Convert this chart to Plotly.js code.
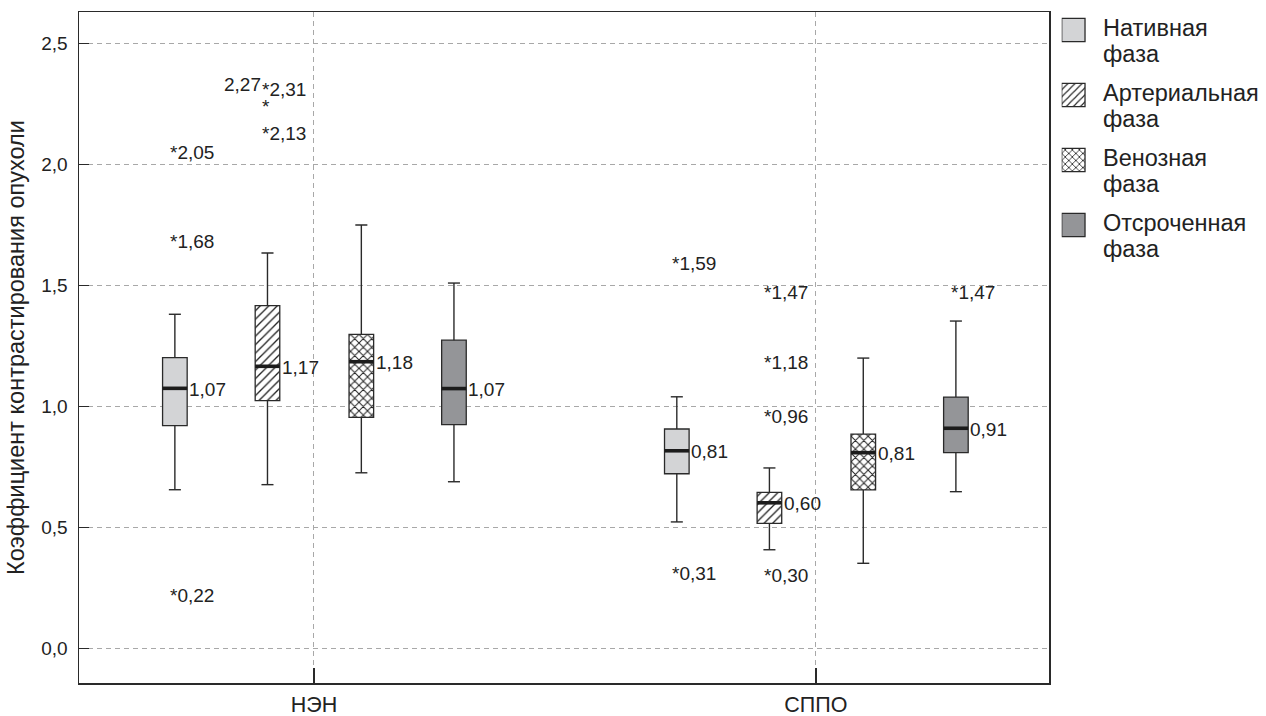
<!DOCTYPE html>
<html><head><meta charset="utf-8">
<script src="https://cdn.plot.ly/plotly-3.0.1.min.js"></script>
<style>html,body{margin:0;padding:0;background:#fff}#chart{width:1266px;height:716px}</style>
</head><body><div id="chart"></div>
<script>
// ---------- data ----------
const groups = ['НЭН', 'СППО'];
const phases = ['Нативная', 'Артериальная', 'Венозная', 'Отсроченная'];
const phaseWord = 'фаза';
// indexed [phase][group]
const whiskerLow  = [[0.656, 0.523], [0.677, 0.408], [0.726, 0.352], [0.689, 0.648]];
const quart1      = [[0.921, 0.722], [1.024, 0.517], [0.955, 0.655], [0.925, 0.809]];
const medians     = [[1.075, 0.817], [1.166, 0.602], [1.185, 0.809], [1.074, 0.910]];
const quart3      = [[1.202, 0.907], [1.417, 0.645], [1.298, 0.886], [1.274, 1.039]];
const whiskerHigh = [[1.381, 1.040], [1.634, 0.746], [1.750, 1.200], [1.510, 1.353]];
const medianLabels = [['1,07', '0,81'], ['1,17', '0,60'], ['1,18', '0,81'], ['1,07', '0,91']];
// outliers
const outlierGroup = [0, 0, 0, 0, 0, 0, 1, 1, 1, 1, 1, 1, 1];
const outlierPhase = [0, 0, 0, 1, 1, 1, 0, 0, 1, 1, 1, 1, 3];
const outlierValue = [2.05, 1.68, 0.22, 2.31, 2.27, 2.13, 1.59, 0.31, 1.47, 1.18, 0.96, 0.30, 1.47];
const yTicks = [0, 0.5, 1.0, 1.5, 2.0, 2.5];
const yTitle = 'Коэффициент контрастирования опухоли';

// ---------- styling / layout constants ----------
const phaseOffset = [-0.277, -0.0925, 0.0945, 0.279];
const boxWidth = 0.049, capHalf = 0.012;
const fills = ['#d3d4d6', '#ffffff', '#ffffff', '#949598'];
const patterns = ['', '/', 'x', ''];
const solidity = [0, 0.22, 0.3, 0];
const ink = '#2a2a2a';
const FONT = '"Liberation Sans", Arial, Helvetica, sans-serif';
const xDomEnd = 0.8174;          // main plot right edge in paper units
const legX0 = 0.8279;            // legend swatch left edge
const legW = (1 - legX0) * 1187; // legend axis width in px units
const legTop0 = 6.3, legStep = 65, legSw = 23.3, legLine = 26;

const fmt = v => v.toFixed(2).replace('.', ',');
const xpos = (p, g) => g + phaseOffset[p];

const traces = [];
const annotations = [];

phases.forEach((ph, p) => {
  // box bodies
  traces.push({
    type: 'bar', xaxis: 'x', yaxis: 'y',
    x: groups.map((g, i) => xpos(p, i)),
    base: quart1[p],
    y: quart3[p].map((v, i) => v - quart1[p][i]),
    width: boxWidth,
    marker: {
      color: fills[p],
      line: {color: ink, width: 1.3},
      pattern: {shape: patterns[p], size: 6, solidity: solidity[p] || 0.2, fgcolor: '#222', bgcolor: '#fff', fillmode: 'replace'}
    },
    showlegend: false, hoverinfo: 'skip'
  });
  // whiskers
  const wx = [], wy = [];
  groups.forEach((g, i) => {
    const c = xpos(p, i);
    wx.push(c, c, null, c - capHalf, c + capHalf, null, c, c, null, c - capHalf, c + capHalf, null);
    wy.push(whiskerHigh[p][i], quart3[p][i], null, whiskerHigh[p][i], whiskerHigh[p][i], null,
            quart1[p][i], whiskerLow[p][i], null, whiskerLow[p][i], whiskerLow[p][i], null);
  });
  traces.push({type: 'scatter', mode: 'lines', x: wx, y: wy, xaxis: 'x', yaxis: 'y',
    line: {color: ink, width: 1.4}, showlegend: false, hoverinfo: 'skip'});
  // medians
  const mx = [], my = [];
  groups.forEach((g, i) => {
    const c = xpos(p, i);
    mx.push(c - boxWidth / 2, c + boxWidth / 2, null);
    my.push(medians[p][i], medians[p][i], null);
  });
  traces.push({type: 'scatter', mode: 'lines', x: mx, y: my, xaxis: 'x', yaxis: 'y',
    line: {color: '#1c1c1c', width: 3.6}, showlegend: false, hoverinfo: 'skip'});
  // median labels
  groups.forEach((g, i) => {
    annotations.push({xref: 'x', yref: 'y', x: xpos(p, i) + boxWidth / 2, y: medians[p][i],
      text: medianLabels[p][i], showarrow: false, xanchor: 'left', yanchor: 'middle', xshift: 0, yshift: -1,
      font: {family: FONT, size: 19, color: '#222'}});
  });
  // legend swatch (in legend axes)
  const top = legTop0 + p * legStep;
  traces.push({
    type: 'bar', xaxis: 'x2', yaxis: 'y2',
    x: [legSw / 2], base: [top], y: [legSw], width: legSw,
    marker: {
      color: fills[p],
      line: {color: ink, width: 1.3},
      pattern: {shape: patterns[p], size: 5, solidity: solidity[p] || 0.2, fgcolor: '#222', bgcolor: '#fff', fillmode: 'replace'}
    },
    showlegend: false, hoverinfo: 'skip'
  });
  annotations.push({xref: 'x2', yref: 'y2', x: 39.6, y: top + 9.5, text: ph, showarrow: false,
    xanchor: 'left', yanchor: 'middle', font: {family: FONT, size: 23.5, color: '#222'}});
  annotations.push({xref: 'x2', yref: 'y2', x: 39.6, y: top + 9.5 + legLine, text: phaseWord, showarrow: false,
    xanchor: 'left', yanchor: 'middle', font: {family: FONT, size: 23.5, color: '#222'}});
});

// outliers
outlierValue.forEach((v, k) => {
  const c = xpos(outlierPhase[k], outlierGroup[k]);
  const overlapping = (outlierGroup[k] === 0 && outlierPhase[k] === 1 && v === 2.27);
  if (overlapping) {
    annotations.push({xref: 'x', yref: 'y', x: c, y: v, text: '*', showarrow: false,
      xanchor: 'left', yanchor: 'middle', xshift: -7, yshift: -7, font: {family: FONT, size: 19, color: '#222'}});
    annotations.push({xref: 'x', yref: 'y', x: c, y: v, text: fmt(v), showarrow: false,
      xanchor: 'right', yanchor: 'middle', xshift: -4, yshift: 15, font: {family: FONT, size: 19, color: '#222'}});
  } else {
    annotations.push({xref: 'x', yref: 'y', x: c, y: v, text: '*' + fmt(v), showarrow: false,
      xanchor: 'left', yanchor: 'middle', xshift: -7, font: {family: FONT, size: 19, color: '#222'}});
  }
});

const layout = {
  width: 1266, height: 716,
  margin: {l: 79, r: 0, t: 12, b: 33},
  paper_bgcolor: '#fff', plot_bgcolor: '#fff',
  separators: ', ',
  barmode: 'overlay',
  showlegend: false,
  font: {family: FONT, color: '#222'},
  xaxis: {
    domain: [0, xDomEnd], range: [-0.468, 1.465],
    tickvals: [0, 1], ticktext: groups,
    ticks: 'inside', ticklen: 15, tickwidth: 1.5, tickcolor: ink,
    showline: true, linecolor: ink, linewidth: 1.5, mirror: true,
    showgrid: true, gridcolor: '#a8a8a8', gridwidth: 1, griddash: '5px,4px',
    zeroline: false, tickfont: {family: FONT, size: 21.5, color: '#222'}, ticklabelstandoff: 2
  },
  yaxis: {
    domain: [0, 1], range: [-0.1426, 2.630],
    tickvals: yTicks, tickformat: '.1f',
    ticks: 'inside', ticklen: 10, tickwidth: 1.5, tickcolor: ink,
    showline: true, linecolor: ink, linewidth: 1.5, mirror: true,
    showgrid: true, gridcolor: '#a8a8a8', gridwidth: 1, griddash: '5px,4px',
    zeroline: false, tickfont: {family: FONT, size: 19, color: '#222'}, ticklabelstandoff: 6,
    title: {text: yTitle, font: {family: FONT, size: 23.5, color: '#222'}, standoff: 10}
  },
  xaxis2: {domain: [legX0, 1], range: [0, legW], visible: false, anchor: 'y2', fixedrange: true},
  yaxis2: {domain: [0, 1], range: [671, 0], visible: false, anchor: 'x2', fixedrange: true},
  annotations: annotations
};

Plotly.newPlot('chart', traces, layout, {displayModeBar: false, staticPlot: true});
</script>
</body></html>
